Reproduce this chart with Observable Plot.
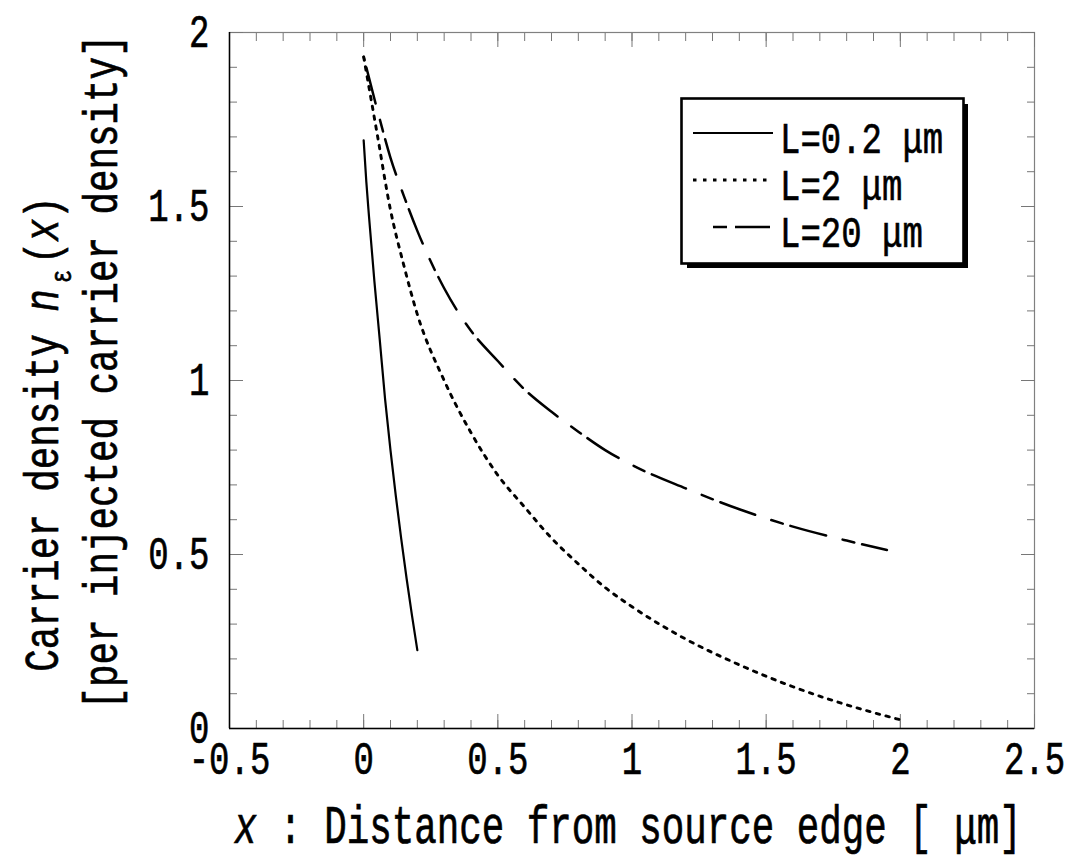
<!DOCTYPE html>
<html>
<head>
<meta charset="utf-8">
<script src="https://cdn.jsdelivr.net/npm/d3@7"></script>
<script src="https://cdn.jsdelivr.net/npm/@observablehq/plot@0.6"></script>
<style>
html, body { margin: 0; padding: 0; background: #fff; }
#chart { width: 1070px; height: 857px; }
</style>
</head>
<body>
<div id="chart"></div>
<script>
// ---- data ----
const seriesNames = ["L=0.2 μm", "L=2 μm", "L=20 μm"];

const xL02 = [0, 0.01, 0.02, 0.04, 0.06, 0.08, 0.10, 0.12, 0.14, 0.16, 0.18, 0.20];
const nL02 = [1.69, 1.57, 1.47, 1.285, 1.117, 0.945, 0.799, 0.667, 0.545, 0.431, 0.325, 0.225];

const xL2 = [0, 0.05, 0.1, 0.15, 0.2, 0.3, 0.4, 0.5, 0.6, 0.7, 0.8, 0.9, 1.0, 1.2, 1.4, 1.6, 1.8, 2.0];
const nL2 = [1.93, 1.71, 1.49, 1.33, 1.19, 1.0, 0.85, 0.728, 0.636, 0.547, 0.473, 0.405, 0.35, 0.257, 0.183, 0.12, 0.068, 0.025];

const xL20 = [0, 0.05, 0.1, 0.15, 0.2, 0.3, 0.4, 0.5, 0.6, 0.7, 0.8, 0.9, 1.0, 1.2, 1.4, 1.6, 1.8, 1.95];
const nL20 = [1.93, 1.78, 1.64, 1.53, 1.43, 1.265, 1.143, 1.056, 0.974, 0.91, 0.853, 0.80, 0.757, 0.69, 0.63, 0.58, 0.54, 0.513];

const xTicksMajor = [-0.5, 0, 0.5, 1, 1.5, 2, 2.5];
const xTickLabels = ["-0.5", "0", "0.5", "1", "1.5", "2", "2.5"];
const yTicksMajor = [0, 0.5, 1, 1.5, 2];
const yTickLabels = ["0", "0.5", "1", "1.5", "2"];
const xTicksMinor = d3.range(-5, 26).map(i => i / 10);
const yTicksMinor = d3.range(0, 21).map(i => i / 10);

const xAxisLabel = " : Distance from source edge [ μm]";
const yAxisLine1 = "Carrier density ";
const yAxisLine2 = "[per injected carrier density]";

// ---- build table ----
const seriesX = [xL02, xL2, xL20];
const seriesN = [nL02, nL2, nL20];
const rows = seriesNames.flatMap((s, k) => seriesX[k].map((x, i) => ({series: s, x, n: seriesN[k][i]})));

const lineStyles = [
  {strokeWidth: 2.2, strokeDasharray: null, strokeDashoffset: 0},
  {strokeWidth: 2.9, strokeDasharray: "3.5,6.5", strokeDashoffset: 0},
  {strokeWidth: 2.5, strokeDasharray: "37,17,12,8", strokeDashoffset: 63}
];

const FONT = "'Liberation Mono', 'DejaVu Sans Mono', monospace";
const tickColor = "#777";

// inward ticks: positive length, shifted into the frame
function ticksX(values, anchor, len) {
  return Plot.axisX(values, {anchor, tickSize: len, dy: anchor === "bottom" ? -len : len,
    tickFormat: () => "", label: null, stroke: tickColor});
}
function ticksY(values, anchor, len) {
  return Plot.axisY(values, {anchor, tickSize: len, dx: anchor === "left" ? len : -len,
    tickFormat: () => "", label: null, stroke: tickColor});
}

const svg = Plot.plot({
  width: 1070,
  height: 857,
  marginLeft: 229,
  marginRight: 36,
  marginTop: 32,
  marginBottom: 129,
  style: {fontFamily: FONT, background: "white", color: "black", overflow: "visible"},
  x: {domain: [-0.5, 2.5]},
  y: {domain: [0, 2]},
  marks: [
    Plot.frame({stroke: "#808080", strokeWidth: 1.2}),
    ticksX(xTicksMinor, "bottom", 8), ticksX(xTicksMinor, "top", 8),
    ticksX(xTicksMajor, "bottom", 14), ticksX(xTicksMajor, "top", 14),
    ticksY(yTicksMinor, "left", 8), ticksY(yTicksMinor, "right", 8),
    ticksY(yTicksMajor, "left", 14), ticksY(yTicksMajor, "right", 14),
    Plot.ruleX([-0.5], {stroke: "black", strokeWidth: 1.5}),
    Plot.ruleY([0], {stroke: "black", strokeWidth: 1.5}),
    Plot.axisX(xTicksMajor, {anchor: "bottom", tickSize: 0, tickPadding: 13, fontSize: 34,
      tickFormat: d => xTickLabels[xTicksMajor.indexOf(d)], label: null}),
    Plot.axisY(yTicksMajor, {anchor: "left", tickSize: 0, tickPadding: 20, fontSize: 34,
      tickFormat: d => yTickLabels[yTicksMajor.indexOf(d)], label: null}),
    ...seriesNames.map((s, k) => Plot.line(rows.filter(r => r.series === s), {
      x: "x", y: "n", stroke: "black", curve: "monotone-x",
      strokeWidth: lineStyles[k].strokeWidth,
      strokeDasharray: lineStyles[k].strokeDasharray,
      strokeDashoffset: lineStyles[k].strokeDashoffset
    }))
  ]
});

document.getElementById("chart").appendChild(svg);
const root = d3.select(svg);

// vertical stretch to mimic the tall, narrow Japanese gothic half-width glyphs
function stretch(sel, k) {
  sel.each(function () {
    const t = d3.select(this);
    const isEm = v => v != null && String(v).trim().endsWith("em");
    const xa = t.attr("x"), ya = t.attr("y");
    const x = isEm(xa) ? 0 : (+xa || 0);
    const y = isEm(ya) ? 0 : (+ya || 0);
    if (!isEm(xa)) t.attr("x", null);
    if (!isEm(ya)) t.attr("y", null);
    const tr = t.attr("transform") || "";
    t.attr("transform", `${tr} translate(${x},${y}) scale(1,${k})`);
  });
}
stretch(root.selectAll("text"), 1.36);
root.selectAll("text").attr("stroke", "black").attr("stroke-width", 0.5);

// ---- axis titles ----
const labels = root.append("g").attr("font-family", FONT).attr("fill", "black")
  .attr("stroke", "black").attr("stroke-width", 0.5).attr("text-anchor", "middle");

const xt = labels.append("text")
  .attr("font-size", 37.5)
  .attr("transform", "translate(628,843) scale(1,1.42)");
xt.append("tspan").attr("font-style", "italic").text("x");
xt.append("tspan").text(xAxisLabel);

const y1 = labels.append("text")
  .attr("font-size", 37.5)
  .attr("transform", "translate(58,434) rotate(-90) scale(1,1.3)");
y1.append("tspan").text(yAxisLine1);
y1.append("tspan").attr("font-style", "italic").text("n");
y1.append("tspan").attr("font-size", 22).attr("dx", 6).attr("dy", 10).text("ε");
y1.append("tspan").attr("dx", 6).attr("dy", -10).text("(");
y1.append("tspan").attr("font-style", "italic").text("x");
y1.append("tspan").text(")");

labels.append("text")
  .attr("font-size", 37.5)
  .attr("transform", "translate(117,372) rotate(-90) scale(1,1.3)")
  .text(yAxisLine2);

// ---- legend ----
const lg = root.append("g").attr("text-anchor", "start");
lg.append("rect").attr("x", 687).attr("y", 104).attr("width", 281).attr("height", 164).attr("fill", "black");
lg.append("rect").attr("x", 681.5).attr("y", 98.5).attr("width", 282).attr("height", 165)
  .attr("fill", "white").attr("stroke", "black").attr("stroke-width", 2.6);
const legendRows = [
  {y: 133, x1: 693, x2: 773, base: 153, dash: null},
  {y: 180, x1: 693, x2: 770, base: 200, dash: "3.5,6.5"},
  {y: 227, x1: 713, x2: 770, base: 247, dash: "14,8,40"}
];
seriesNames.forEach((s, k) => {
  const r = legendRows[k];
  lg.append("line").attr("x1", r.x1).attr("x2", r.x2).attr("y1", r.y).attr("y2", r.y)
    .attr("stroke", "black").attr("stroke-width", lineStyles[k].strokeWidth)
    .attr("stroke-dasharray", r.dash);
  lg.append("text").attr("font-family", FONT).attr("font-size", 34)
    .attr("fill", "black").attr("stroke", "black").attr("stroke-width", 0.5)
    .attr("text-anchor", "start")
    .attr("transform", `translate(780,${r.base}) scale(1,1.28)`).text(s);
});
</script>
</body>
</html>
